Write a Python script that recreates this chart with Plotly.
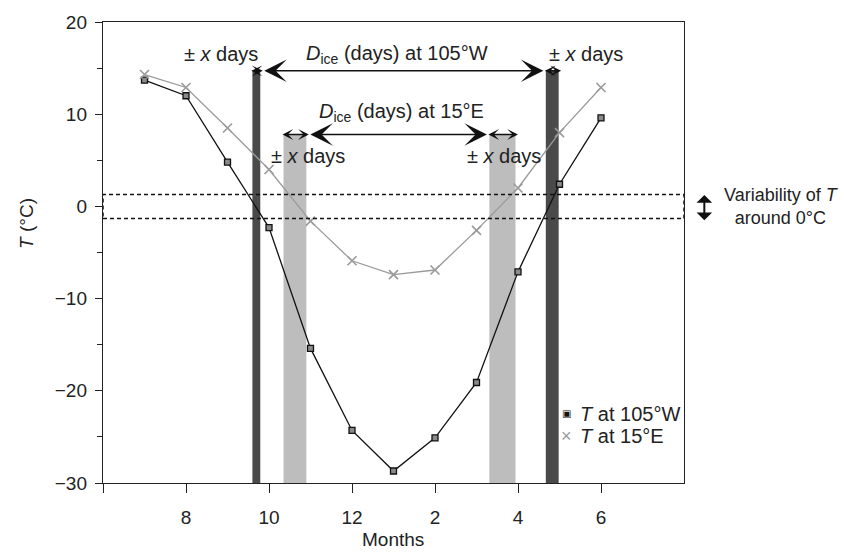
import plotly.graph_objects as go

# ---------------- data ----------------
month_pos = [7, 8, 9, 10, 11, 12, 13, 14, 15, 16, 17, 18]
temp_105w = [13.7, 12.0, 4.8, -2.3, -15.4, -24.3, -28.7, -25.1, -19.1, -7.1, 2.4, 9.6]
temp_15e = [14.3, 12.9, 8.5, 4.0, -1.6, -5.9, -7.4, -6.9, -2.6, 2.0, 8.0, 12.9]

tick_pos = [6, 8, 10, 12, 14, 16, 18]
tick_text = ["", "8", "10", "12", "2", "4", "6"]

dark_bands = [(9.60, 9.79), (16.67, 16.98)]    # freeze / thaw at 105°W
light_bands = [(10.35, 10.90), (15.31, 15.94)]  # freeze / thaw at 15°E
band_tops = [14.7, 7.8]
zero_var = 1.3

x_range = [6, 20]
y_range = [-30, 20]

FONT = "Liberation Sans, Arial, sans-serif"
DARK = "#4a4a4a"
LIGHT = "#bdbdbd"
TXT = "#222222"

fig = go.Figure()

fig.add_trace(go.Scatter(
    x=month_pos, y=temp_105w, mode="lines+markers", showlegend=False,
    line=dict(color="#111111", width=1.3),
    marker=dict(symbol="square", size=6, color="#8a8a8a",
                line=dict(color="#111111", width=1.3)),
))
fig.add_trace(go.Scatter(
    x=month_pos, y=temp_15e, mode="lines+markers", showlegend=False,
    line=dict(color="#9a9a9a", width=1.3),
    marker=dict(symbol="x-thin", size=9, color="#9a9a9a",
                line=dict(color="#9a9a9a", width=1.6)),
))

shapes = []
for bands, col, top in [(dark_bands, DARK, band_tops[0]), (light_bands, LIGHT, band_tops[1])]:
    for lo, hi in bands:
        shapes.append(dict(type="rect", xref="x", yref="y", x0=lo, x1=hi,
                           y0=y_range[0], y1=top, fillcolor=col,
                           line=dict(width=0), layer="below"))
shapes.append(dict(type="rect", xref="x", yref="y", x0=x_range[0], x1=x_range[1],
                   y0=-zero_var, y1=zero_var, fillcolor="rgba(0,0,0,0)",
                   line=dict(color="#111111", width=1.5, dash="4px,3px"), layer="above"))

annotations = []


def arrow(x0, x1, y, width, size):
    return dict(x=x1, y=y, ax=x0, ay=y, xref="x", yref="y", axref="x", ayref="y",
                text="", showarrow=True, arrowhead=3, arrowsize=size, arrowwidth=width,
                arrowcolor="#111111", standoff=0, startstandoff=0,
                arrowside="end+start", startarrowhead=3, startarrowsize=size)


pad = 0.06
for bands, y in [(dark_bands, band_tops[0]), (light_bands, band_tops[1])]:
    for lo, hi in bands:
        annotations.append(arrow(lo - pad, hi + pad, y, 1.5, 1.2))
    annotations.append(arrow(bands[0][1] + pad, bands[1][0] - pad, y, 1.5, 2.5))

txt_font = dict(family=FONT, size=20, color=TXT)
pm = "± <i>x</i> days"
text_items = [
    (8.85, 16.5, pm),
    (13.08, 16.5, "<i>D</i><sub>ice</sub> (days) at 105°W"),
    (17.63, 16.5, pm),
    (13.2, 10.2, "<i>D</i><sub>ice</sub> (days) at 15°E"),
    (10.95, 5.5, pm),
    (15.67, 5.5, pm),
]
for x, y, t in text_items:
    annotations.append(dict(x=x, y=y, xref="x", yref="y", text=t, showarrow=False,
                            font=txt_font, xanchor="center", yanchor="middle"))

# variability arrow and text (right of plot)
annotations.append(dict(x=1.035, y=-1.5, xref="paper", yref="y", ax=0, ay=1.4,
                        axref="pixel", ayref="y", text="", showarrow=True,
                        arrowhead=1, arrowsize=1.3, arrowwidth=2, arrowcolor="#111111",
                        arrowside="end+start", startarrowhead=1, startarrowsize=1.3,
                        standoff=0, startstandoff=0))
annotations.append(dict(x=1.167, y=0, xref="paper", yref="y",
                        text="Variability of <i>T</i><br>around 0°C", showarrow=False,
                        font=dict(family=FONT, size=18, color=TXT),
                        xanchor="center", yanchor="middle", align="center"))

# legend (manual)
annotations.append(dict(x=0.7986, y=0.150, xref="paper", yref="paper", text="▣",
                        showarrow=False, font=dict(family="DejaVu Sans", size=10, color="#111111"),
                        xanchor="center", yanchor="middle"))
annotations.append(dict(x=0.8176, y=0.150, xref="paper", yref="paper",
                        text="<i>T</i> at 105°W", showarrow=False, font=txt_font,
                        xanchor="left", yanchor="middle"))
annotations.append(dict(x=0.7986, y=0.101, xref="paper", yref="paper", text="×",
                        showarrow=False, font=dict(family=FONT, size=18, color="#9a9a9a"),
                        xanchor="center", yanchor="middle"))
annotations.append(dict(x=0.8176, y=0.101, xref="paper", yref="paper",
                        text="<i>T</i> at 15°E", showarrow=False, font=txt_font,
                        xanchor="left", yanchor="middle"))

# axis titles
annotations.append(dict(x=-0.131, y=0.564, xref="paper", yref="paper", text="<i>T</i> (°C)",
                        showarrow=False, textangle=-90, font=dict(family=FONT, size=19, color=TXT),
                        xanchor="center", yanchor="middle"))
annotations.append(dict(x=0.499, y=-0.122, xref="paper", yref="paper", text="Months",
                        showarrow=False, font=dict(family=FONT, size=19, color=TXT),
                        xanchor="center", yanchor="middle"))

fig.update_layout(
    width=844, height=554,
    margin=dict(l=103, r=160, t=17, b=71),
    paper_bgcolor="white", plot_bgcolor="white",
    font=dict(family=FONT, size=19, color=TXT),
    shapes=shapes, annotations=annotations, showlegend=False,
    xaxis=dict(range=x_range, tickvals=tick_pos, ticktext=tick_text,
               showgrid=False, zeroline=False, showline=True, linecolor="#222222",
               linewidth=1.4, mirror=True, ticks="outside", ticklen=9, tickwidth=1.4,
               tickcolor="#222222", ticklabelstandoff=8,
               tickfont=dict(family=FONT, size=19, color=TXT)),
    yaxis=dict(range=y_range, tickvals=[-30, -20, -10, 0, 10, 20], showgrid=False,
               zeroline=False, showline=True, linecolor="#222222", linewidth=1.4,
               mirror=True, ticks="outside", ticklen=7, tickwidth=1.4, tickcolor="#222222",
               ticklabelstandoff=4,
               minor=dict(tickvals=[-25, -15, -5, 5, 15], ticks="outside", ticklen=5,
                          tickwidth=1.4, tickcolor="#222222"),
               tickfont=dict(family=FONT, size=19, color=TXT)),
)

fig.write_html("out.html", config={"displayModeBar": False},
               post_script="document.body.style.margin='0';document.body.style.overflow='hidden';")
